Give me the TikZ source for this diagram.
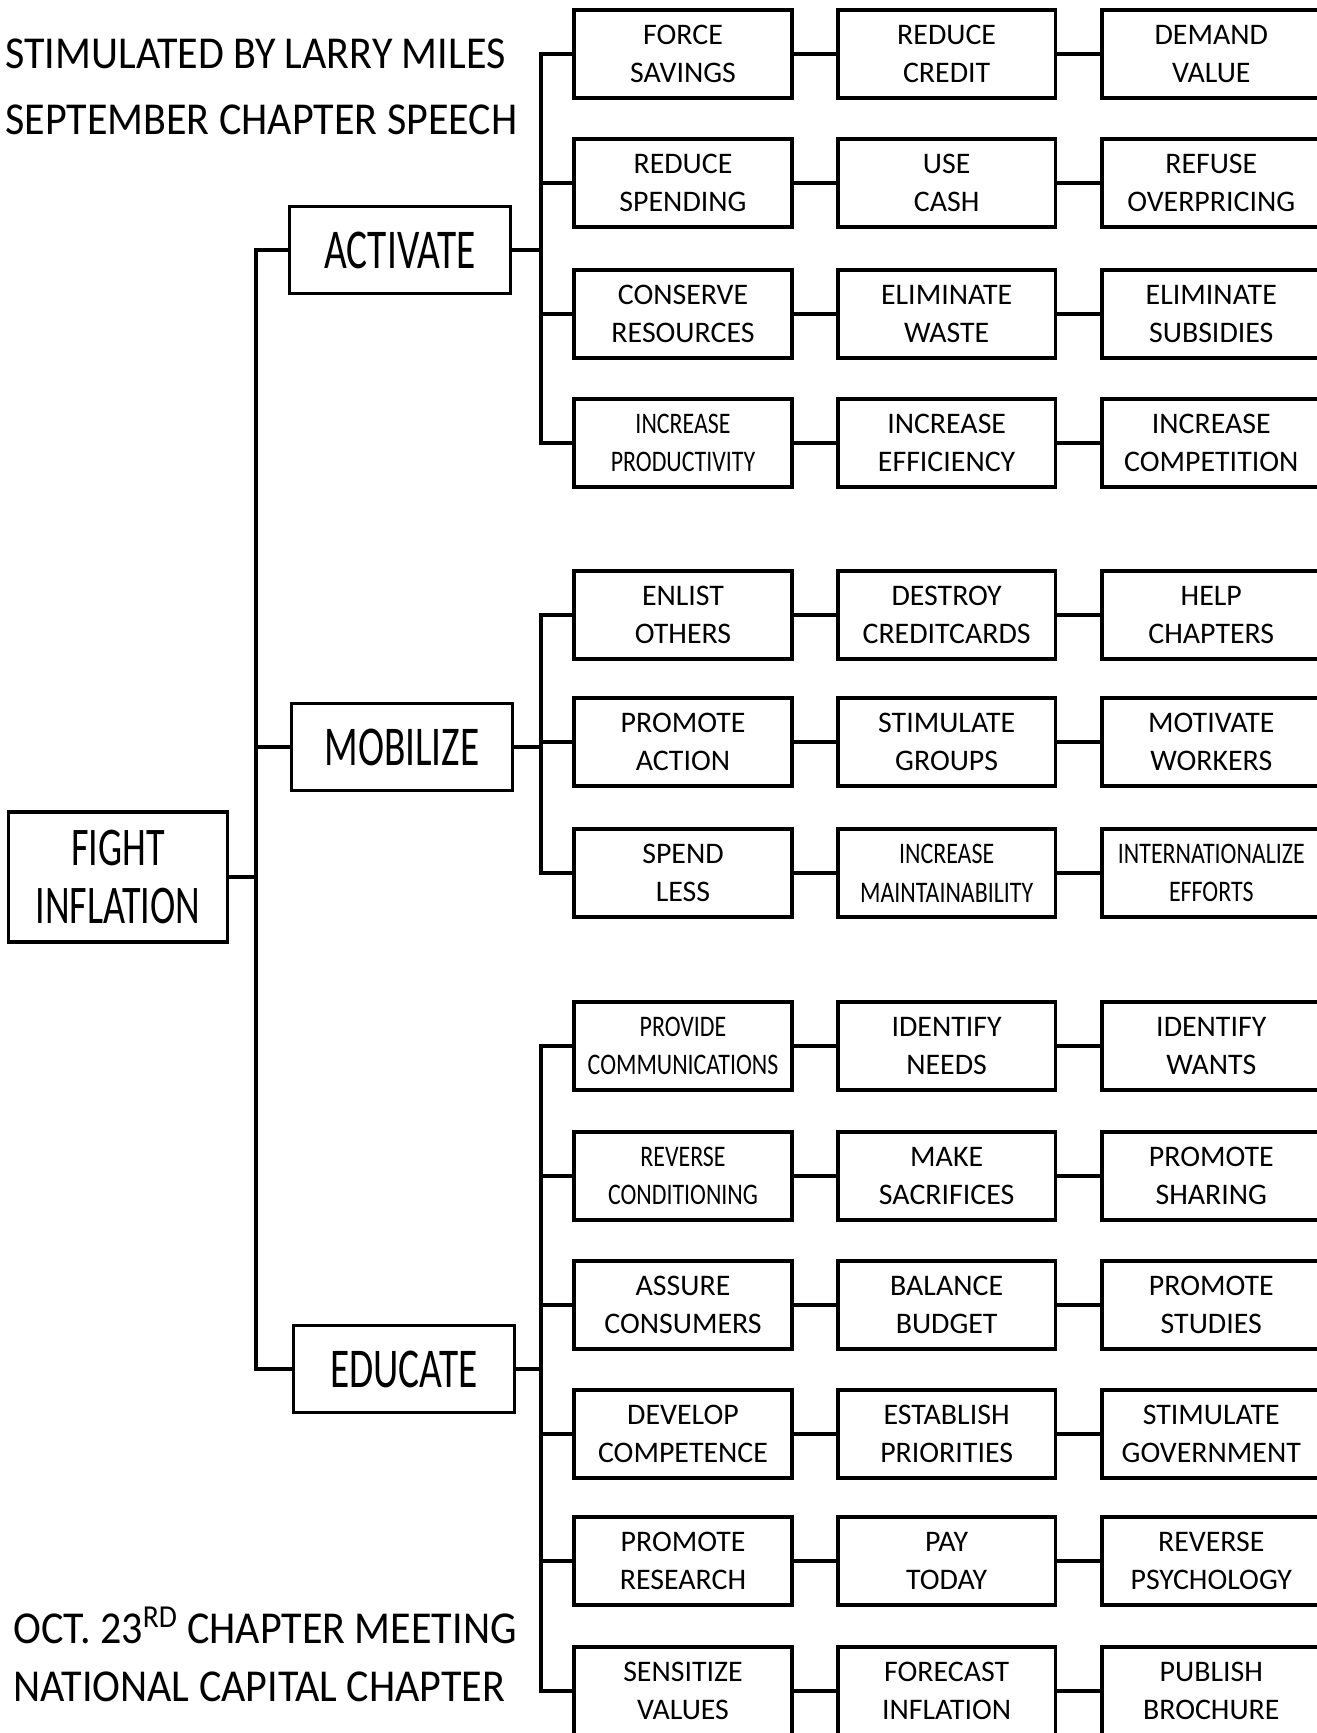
\documentclass[tikz,border=0pt]{standalone}
\usepackage{fontspec}
\setmainfont{Carlito}
\newfontfamily\tallfont{Carlito}[FakeStretch=0.7]
\newfontfamily\narrowfont{Carlito}[FakeStretch=0.8]
\newfontfamily\notefont{Carlito}[FakeStretch=0.92]
\usepackage{tikz}
\usetikzlibrary{positioning}

\tikzset{
	idea/.style={rectangle, draw, line width=2.1pt, fill=white, minimum width=4.36cm, minimum height=1.76cm, inner sep=1pt, align=center, font=\fontsize{17}{22}\selectfont},
	tight/.style={font=\narrowfont\fontsize{17}{22}\selectfont},
	branch/.style={idea, minimum width=4.42cm, minimum height=1.74cm, font=\tallfont\fontsize{32}{36}\selectfont},
	link/.style={line width=2pt, line cap=rect},
	note/.style={anchor=west, inner sep=0pt, font=\notefont\fontsize{26}{30}\selectfont}
}

\begin{document}
\begin{tikzpicture}[x=0.02cm, y=-0.02cm]
			\useasboundingbox (0,0) rectangle (1317,1733);
			% notes
			\node [note] (miles) at (5,54) {STIMULATED BY LARRY MILES};
			\node [note] (speech) at (5,120) {SEPTEMBER CHAPTER SPEECH};
			\node [note] (meeting) at (13,1625) {OCT. 23\textsuperscript{RD} CHAPTER MEETING};
			\node [note] (capital) at (13,1687) {NATIONAL CAPITAL CHAPTER};

			% goal and the three branches
			\node [idea, minimum width=4.38cm, minimum height=2.6cm, font=\tallfont\fontsize{31}{33}\selectfont] (fight) at (118,877) {FIGHT\\INFLATION};
			\node [branch] (activate) at (400,250) {ACTIVATE};
			\node [branch] (mobilize) at (402,747) {MOBILIZE};
			\node [branch] (educate) at (404,1369) {EDUCATE};

			% activate
			\node [idea] (act1a) at (683,54) {FORCE\\SAVINGS};
			\node [idea, right=0.84cm of act1a] (act1b) {REDUCE\\CREDIT};
			\node [idea, right=0.86cm of act1b] (act1c) {DEMAND\\VALUE};
			\node [idea] (act2a) at (683,183) {REDUCE\\SPENDING};
			\node [idea, right=0.84cm of act2a] (act2b) {USE\\CASH};
			\node [idea, right=0.86cm of act2b] (act2c) {REFUSE\\OVERPRICING};
			\node [idea] (act3a) at (683,314) {CONSERVE\\RESOURCES};
			\node [idea, right=0.84cm of act3a] (act3b) {ELIMINATE\\WASTE};
			\node [idea, right=0.86cm of act3b] (act3c) {ELIMINATE\\SUBSIDIES};
			\node [idea, tight] (act4a) at (683,443) {INCREASE\\PRODUCTIVITY};
			\node [idea, right=0.84cm of act4a] (act4b) {INCREASE\\EFFICIENCY};
			\node [idea, right=0.86cm of act4b] (act4c) {INCREASE\\COMPETITION};

			% mobilize
			\node [idea] (mob1a) at (683,615) {ENLIST\\OTHERS};
			\node [idea, right=0.84cm of mob1a] (mob1b) {DESTROY\\CREDITCARDS};
			\node [idea, right=0.86cm of mob1b] (mob1c) {HELP\\CHAPTERS};
			\node [idea] (mob2a) at (683,742) {PROMOTE\\ACTION};
			\node [idea, right=0.84cm of mob2a] (mob2b) {STIMULATE\\GROUPS};
			\node [idea, right=0.86cm of mob2b] (mob2c) {MOTIVATE\\WORKERS};
			\node [idea] (mob3a) at (683,873) {SPEND\\LESS};
			\node [idea, tight, right=0.84cm of mob3a] (mob3b) {INCREASE\\MAINTAINABILITY};
			\node [idea, tight, right=0.86cm of mob3b] (mob3c) {INTERNATIONALIZE\\EFFORTS};

			% educate
			\node [idea, tight] (edu1a) at (683,1046) {PROVIDE\\COMMUNICATIONS};
			\node [idea, right=0.84cm of edu1a] (edu1b) {IDENTIFY\\NEEDS};
			\node [idea, right=0.86cm of edu1b] (edu1c) {IDENTIFY\\WANTS};
			\node [idea, tight] (edu2a) at (683,1176) {REVERSE\\CONDITIONING};
			\node [idea, right=0.84cm of edu2a] (edu2b) {MAKE\\SACRIFICES};
			\node [idea, right=0.86cm of edu2b] (edu2c) {PROMOTE\\SHARING};
			\node [idea] (edu3a) at (683,1305) {ASSURE\\CONSUMERS};
			\node [idea, right=0.84cm of edu3a] (edu3b) {BALANCE\\BUDGET};
			\node [idea, right=0.86cm of edu3b] (edu3c) {PROMOTE\\STUDIES};
			\node [idea] (edu4a) at (683,1434) {DEVELOP\\COMPETENCE};
			\node [idea, right=0.84cm of edu4a] (edu4b) {ESTABLISH\\PRIORITIES};
			\node [idea, right=0.86cm of edu4b] (edu4c) {STIMULATE\\GOVERNMENT};
			\node [idea] (edu5a) at (683,1561) {PROMOTE\\RESEARCH};
			\node [idea, right=0.84cm of edu5a] (edu5b) {PAY\\TODAY};
			\node [idea, right=0.86cm of edu5b] (edu5c) {REVERSE\\PSYCHOLOGY};
			\node [idea] (edu6a) at (683,1691) {SENSITIZE\\VALUES};
			\node [idea, right=0.84cm of edu6a] (edu6b) {FORECAST\\INFLATION};
			\node [idea, right=0.86cm of edu6b] (edu6c) {PUBLISH\\BROCHURE};

			% trunk and buses
			\coordinate (trunk) at (256,0);
			\coordinate (bus) at (541,0);
			\draw [link] (fight) -- (fight -| trunk);
			\draw [link] (activate -| trunk) -- (educate -| trunk);
			\foreach \branch in {activate,mobilize,educate}
				\draw [link] (\branch -| trunk) -- (\branch) (\branch) -- (\branch -| bus);
			\draw [link] (act1a -| bus) -- (act4a -| bus);
			\draw [link] (mob1a -| bus) -- (mob3a -| bus);
			\draw [link] (edu1a -| bus) -- (edu6a -| bus);
			\foreach \row in {act1,act2,act3,act4,mob1,mob2,mob3,edu1,edu2,edu3,edu4,edu5,edu6}
				\draw [link] (\row a -| bus) -- (\row a) (\row a) -- (\row b) (\row b) -- (\row c);
			\end{tikzpicture}
\end{document}
